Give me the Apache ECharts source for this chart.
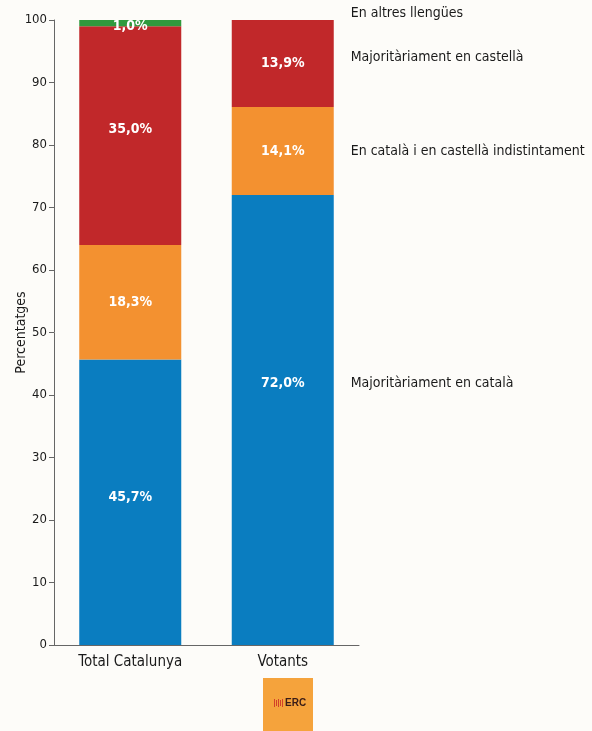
<!DOCTYPE html>
<html><head><meta charset="utf-8">
<script src="https://cdn.jsdelivr.net/npm/echarts@6/dist/echarts.min.js"></script>
<style>html,body{margin:0;padding:0;background:#fdfcf9;}#c{width:592px;height:731px;}</style>
</head><body><div id="c"></div>
<script>
const categories = ['Total Catalunya', 'Votants'];
const seriesNames = ['Majoritàriament en català', 'En català i en castellà indistintament', 'Majoritàriament en castellà', 'En altres llengües'];
const catala = [45.7, 72.0];
const indistint = [18.3, 14.1];
const castella = [35.0, 13.9];
const altres = [1.0, 0];
const yTicks = [0, 10, 20, 30, 40, 50, 60, 70, 80, 90, 100];
const colors = ['#0a7dc0', '#f39130', '#c1282a', '#2f9a3d'];
const values = [catala, indistint, castella, altres];

const FONT = '"Liberation Sans Narrow", "Arial Narrow", "DejaVu Sans Condensed", sans-serif';
const fmt = v => v.toFixed(1).replace('.', ',') + '%';
// per-item label vertical nudges (style only)
const labelNudge = [[-5, -37], [0, 0], [-6, 0], [3, 0]];

const chart = echarts.init(document.getElementById('c'));
const series = values.map((vals, si) => ({
  name: seriesNames[si],
  type: 'bar',
  stack: 'total',
  barWidth: 102,
  itemStyle: { color: colors[si] },
  data: vals.map((v, ci) => ({
    value: v,
    label: {
      show: v > 0,
      position: 'inside',
      formatter: fmt(v),
      color: '#fff',
      fontFamily: FONT,
      fontWeight: 'bold',
      fontSize: 14,
      offset: [0, labelNudge[si][ci]]
    }
  }))
}));

chart.setOption({
  backgroundColor: '#fdfcf9',
  animation: false,
  grid: { left: 54, right: 233, top: 20, bottom: 86, containLabel: false, outerBoundsMode: 'none' },
  xAxis: {
    type: 'category',
    data: categories,
    axisLine: { lineStyle: { color: '#666' } },
    axisTick: { show: false },
    axisLabel: { color: '#1a1a1a', fontFamily: FONT, fontSize: 15, margin: 10 }
  },
  yAxis: {
    type: 'value',
    min: 0, max: 100, interval: 10,
    name: 'Percentatges',
    nameLocation: 'middle',
    nameGap: 26,
    nameMoveOverlap: false,
    nameTextStyle: { color: '#1a1a1a', fontFamily: FONT, fontSize: 14 },
    splitLine: { show: false },
    axisLine: { show: true, lineStyle: { color: '#666' } },
    axisTick: { show: true, length: 5, lineStyle: { color: '#666' } },
    axisLabel: { color: '#1a1a1a', fontFamily: FONT, fontSize: 13, margin: 7,
      formatter: v => yTicks.includes(v) ? String(v) : '' }
  },
  series: series
});

// right-side series labels next to the Votants bar
const rightNudge = [-37, 0, -6, -7];
const graphics = [];
let cum = 0;
values.forEach((vals, si) => {
  const v = vals[1];
  const mid = cum + v / 2;
  cum += v;
  const p = chart.convertToPixel({ gridIndex: 0 }, [categories[1], mid]);
  graphics.push({
    type: 'text',
    x: p[0] + 51 + 17,
    y: p[1] + rightNudge[si],
    style: { text: seriesNames[si], fill: '#1a1a1a', font: '14px ' + FONT, textVerticalAlign: 'middle' }
  });
});
// ERC logo
graphics.push({ type: 'rect', shape: { x: 263, y: 678, width: 50, height: 53 }, style: { fill: '#f5a33c' } });
[274, 276, 278, 280, 282].forEach((x, i) => {
  graphics.push({ type: 'rect', shape: { x: x, y: 699 + (i % 2), width: 1, height: 8 - (i % 2) * 2 }, style: { fill: '#d2402a' } });
});
graphics.push({ type: 'text', x: 285, y: 703, style: { text: 'ERC', fill: '#3a1d18', font: 'bold 10px "Liberation Sans", sans-serif', textVerticalAlign: 'middle' } });
chart.setOption({ graphic: graphics });
</script></body></html>
